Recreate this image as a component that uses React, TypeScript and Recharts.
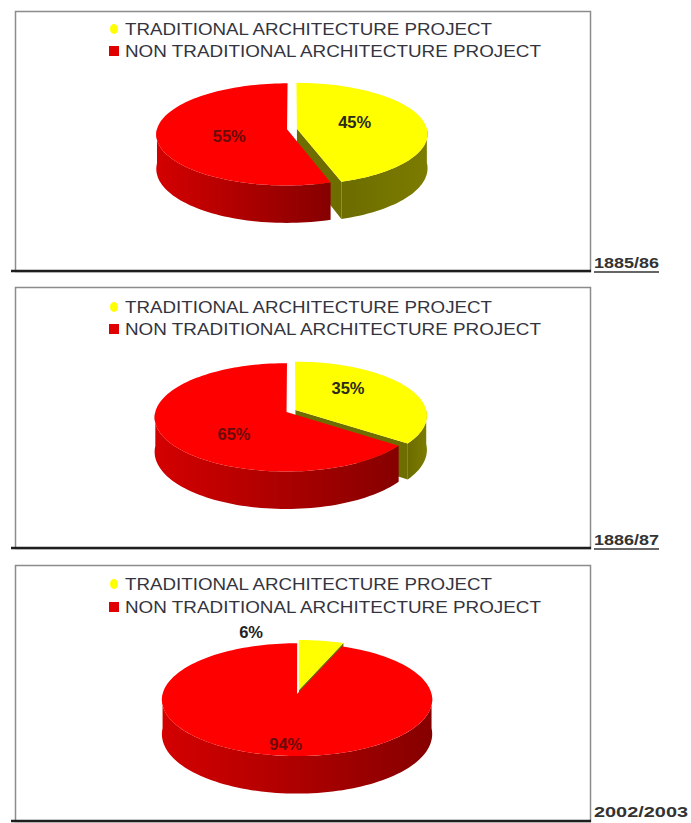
import React from 'react';
import { PieChart, Pie } from 'recharts';

// ---- data ----
const categories = ['TRADITIONAL ARCHITECTURE PROJECT', 'NON TRADITIONAL ARCHITECTURE PROJECT'];
const periods = ['1885/86', '1886/87', '2002/2003'];
const traditionalShare = [45, 35, 6];
const nonTraditionalShare = [55, 65, 94];

// ---- styles ----
const TOP_COLORS = ['#ffff00', '#ff0000'];
const SIDE_COLORS = [
  ['#6c6c00', '#7c7c00'],
  ['#d40000', '#860000'],
];
const CUT_COLORS = ['#6e6e00', '#a00000'];
const TEXT_COLORS = ['#2a2a1a', '#6a0a0a'];
const RAD = Math.PI / 180;
const EXPLODE = 5;
const PERSP = 0.1;

const panels = [
  { top: 11, bottom: 271, cx: 292, cy: 129, R: 130, k: 51 / 130, D: 34, legendY: [35, 57], labelY: 268, labelLen: 65, underline: true },
  { top: 287, bottom: 548, cx: 291, cy: 411, R: 131, k: 54 / 131, D: 34, legendY: [313, 335], labelY: 545, labelLen: 65, underline: true },
  { top: 565, bottom: 821, cx: 298, cy: 692, R: 134, k: 56 / 134, D: 34, legendY: [590, 613], labelY: 817, labelLen: 94, underline: false },
];

type Geo = { cx: number; cy: number; R: number; k: number; D: number; ex: number; ez: number };

function proj(g: Geo, X: number, Z: number, Y: number) {
  const s = 1 - (PERSP * Z) / g.R;
  return [g.cx + X * s, g.cy - g.k * Z * s + Y * s];
}
function rim(g: Geo, a: number, Y: number) {
  return proj(g, g.R * Math.cos(a * RAD) + g.ex, g.R * Math.sin(a * RAD) + g.ez, Y);
}
function centerPt(g: Geo, Y: number) {
  return proj(g, g.ex, g.ez, Y);
}
function arcPts(g: Geo, from: number, to: number, Y: number) {
  const n = Math.max(2, Math.ceil(Math.abs(from - to) / 2));
  const pts: number[][] = [];
  for (let i = 0; i <= n; i++) pts.push(rim(g, from + ((to - from) * i) / n, Y));
  return pts;
}
const f = (v: number) => v.toFixed(2);
const toPath = (pts: number[][]) => pts.map((p, i) => `${i ? 'L' : 'M'}${f(p[0])},${f(p[1])}`).join(' ') + ' Z';

function geoFor(p: any, k: number, D: number): Geo {
  return {
    cx: p.cx,
    cy: p.cy,
    R: p.outerRadius,
    k,
    D,
    ex: EXPLODE * Math.cos(p.midAngle * RAD),
    ez: EXPLODE * Math.sin(p.midAngle * RAD),
  };
}

const makeWalls = (k: number, D: number, uid: string) => (p: any) => {
  const { startAngle, endAngle, index } = p;
  const g = geoFor(p, k, D);
  const hi0 = Math.max(startAngle, endAngle);
  const lo0 = Math.min(startAngle, endAngle);
  const parts: any[] = [];
  const cuts: number[] = [];
  if (Math.cos(hi0 * RAD) < -0.001) cuts.push(hi0);
  if (Math.cos(lo0 * RAD) > 0.001) cuts.push(lo0);
  cuts.forEach((a, j) => {
    const pts = [centerPt(g, 0), rim(g, a, 0), rim(g, a, D), centerPt(g, D)];
    parts.push(<path key={'c' + j} d={toPath(pts)} fill={CUT_COLORS[index]} />);
  });
  for (let n = -2; n <= 1; n++) {
    const lo = Math.max(lo0, -180 + 360 * n);
    const hi = Math.min(hi0, 360 * n);
    if (hi - lo > 0.01) {
      const pts = [...arcPts(g, hi, lo, 0), ...arcPts(g, lo, hi, D)];
      parts.push(<path key={'w' + n} d={toPath(pts)} fill={`url(#side-${uid}-${index})`} />);
    }
  }
  return (
    <g key={'walls' + index}>
      <defs>
        <linearGradient id={`side-${uid}-${index}`} x1="0" y1="0" x2="1" y2="0">
          <stop offset="0%" stopColor={SIDE_COLORS[index][0]} />
          <stop offset="100%" stopColor={SIDE_COLORS[index][1]} />
        </linearGradient>
      </defs>
      {parts}
    </g>
  );
};

const makeTops = (k: number, D: number) => (p: any) => {
  const { startAngle, endAngle, midAngle, index, percent, value } = p;
  const g = geoFor(p, k, D);
  const hi = Math.max(startAngle, endAngle);
  const lo = Math.min(startAngle, endAngle);
  const pts = [centerPt(g, 0), ...arcPts(g, hi, lo, 0)];
  const kR = k * g.R;
  let tx: number, ty: number, tc: string;
  if (percent < 0.1) {
    tx = g.cx - 0.35 * g.R;
    ty = g.cy - 0.9 * kR - 10;
    tc = '#222';
  } else {
    const c = centerPt(g, 0);
    tx = c[0] + 0.45 * g.R * Math.cos(midAngle * RAD);
    ty = c[1] - 0.9 * kR * Math.sin(midAngle * RAD);
    tc = TEXT_COLORS[index];
  }
  return (
    <g key={'top' + index}>
      <path d={toPath(pts)} fill={TOP_COLORS[index]} />
      <text
        x={tx}
        y={ty + 6}
        textAnchor="middle"
        fontSize={16.5}
        fontWeight="bold"
        fill={tc}
        fontFamily='"Liberation Sans", Arial, sans-serif'
      >
        {`${value}%`}
      </text>
    </g>
  );
};

const ZERO_MARGIN = { top: 0, right: 0, bottom: 0, left: 0 };

export default function App() {
  return (
    <div
      style={{
        position: 'absolute',
        left: 0,
        top: 0,
        width: 691,
        height: 823,
        background: '#fff',
        fontFamily: '"Liberation Sans", Arial, sans-serif',
        overflow: 'hidden',
      }}
    >
      <svg width={691} height={823} style={{ position: 'absolute', left: 0, top: 0 }}>
        {panels.map((pn, i) => (
          <g key={i}>
            <rect x={15.5} y={pn.top + 0.5} width={575} height={pn.bottom - pn.top} fill="#fff" stroke="#8c8c8c" strokeWidth={1.5} />
            <line x1={11} x2={591} y1={pn.bottom} y2={pn.bottom} stroke="#1e1e1e" strokeWidth={2.5} />
            <ellipse cx={114} cy={pn.legendY[0] - 6} rx={4} ry={5} fill={TOP_COLORS[0]} />
            <rect x={109} y={pn.legendY[1] - 11} width={10} height={10} fill="#e00000" />
            <text x={125} y={pn.legendY[0]} fontSize={16.5} fill="#34343e" textLength={367} lengthAdjust="spacingAndGlyphs">
              {categories[0]}
            </text>
            <text x={125} y={pn.legendY[1]} fontSize={16.5} fill="#34343e" textLength={416} lengthAdjust="spacingAndGlyphs">
              {categories[1]}
            </text>
            <text x={594} y={pn.labelY} fontSize={15} fontWeight="bold" fill="#333" textLength={pn.labelLen} lengthAdjust="spacingAndGlyphs">
              {periods[i]}
            </text>
            {pn.underline && <line x1={594} x2={594 + pn.labelLen} y1={pn.labelY + 4} y2={pn.labelY + 4} stroke="#333" strokeWidth={1.5} />}
          </g>
        ))}
      </svg>
      {panels.map((pn, i) => {
        const data = [
          { name: categories[0], value: traditionalShare[i] },
          { name: categories[1], value: nonTraditionalShare[i] },
        ];
        const h = pn.bottom - pn.top;
        return (
          <div key={i} style={{ position: 'absolute', left: 0, top: pn.top, width: 691, height: h }}>
            <PieChart width={691} height={h} margin={ZERO_MARGIN}>
              <Pie
                data={data}
                dataKey="value"
                nameKey="name"
                cx={pn.cx}
                cy={pn.cy - pn.top}
                outerRadius={pn.R}
                startAngle={90}
                endAngle={-270}
                fill="none"
                stroke="none"
                isAnimationActive={false}
                label={makeWalls(pn.k, pn.D, 'p' + i)}
                labelLine={false}
                legendType="none"
              />
              <Pie
                data={data}
                dataKey="value"
                nameKey="name"
                cx={pn.cx}
                cy={pn.cy - pn.top}
                outerRadius={pn.R}
                startAngle={90}
                endAngle={-270}
                fill="none"
                stroke="none"
                isAnimationActive={false}
                label={makeTops(pn.k, pn.D)}
                labelLine={false}
                legendType="none"
              />
            </PieChart>
          </div>
        );
      })}
    </div>
  );
}
